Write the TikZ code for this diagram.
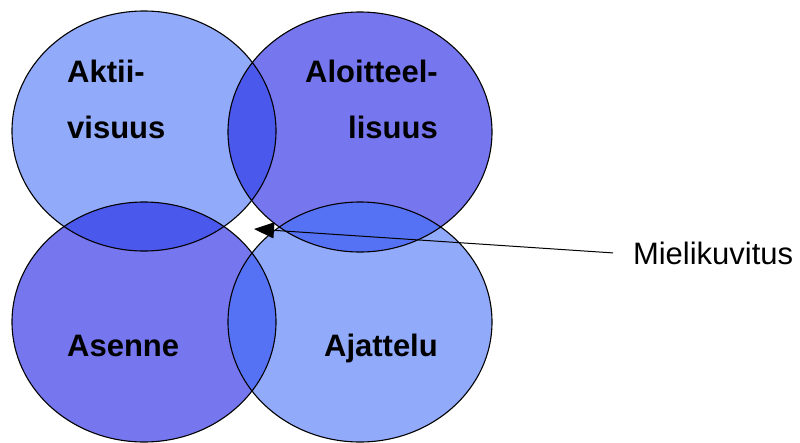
\documentclass[tikz,border=0pt]{standalone}
\usepackage{fontspec}
\setmainfont{Liberation Sans}
\usetikzlibrary{arrows.meta}
\definecolor{lightfill}{RGB}{146,170,250}
\definecolor{darkfill}{RGB}{118,118,238}
\definecolor{overlapA}{RGB}{74,88,236}
\definecolor{overlapB}{RGB}{86,114,244}
\tikzset{
  circlab/.style={anchor=base west, inner sep=0pt, font=\fontsize{31}{37}\selectfont\bfseries},
  outline/.style={draw=black, line width=1.1pt},
  pointer/.style={draw=black, line width=1pt, -{Triangle[length=20pt,width=16pt]}},
}
\begin{document}
\begin{tikzpicture}[x=1pt,y=-1pt]
\useasboundingbox (0,0) rectangle (800,442);
% circle centres and radii
\def\rx{132pt}
\def\ry{120pt}
\coordinate (ctl) at (144,131);
\coordinate (ctr) at (360,132);
\coordinate (cbl) at (144,322);
\coordinate (cbr) at (360,322);
% base fills
\fill[lightfill] (ctl) ellipse [x radius=\rx, y radius=\ry];
\fill[darkfill]  (ctr) ellipse [x radius=\rx, y radius=\ry];
\fill[darkfill]  (cbl) ellipse [x radius=\rx, y radius=\ry];
\fill[lightfill] (cbr) ellipse [x radius=\rx, y radius=\ry];
% overlaps
\begin{scope}
  \clip (ctl) ellipse [x radius=\rx, y radius=\ry];
  \fill[overlapA] (ctr) ellipse [x radius=\rx, y radius=\ry];
  \fill[overlapA] (cbl) ellipse [x radius=\rx, y radius=\ry];
\end{scope}
\begin{scope}
  \clip (cbr) ellipse [x radius=\rx, y radius=\ry];
  \fill[overlapB] (ctr) ellipse [x radius=\rx, y radius=\ry];
  \fill[overlapB] (cbl) ellipse [x radius=\rx, y radius=\ry];
\end{scope}
% outlines
\draw[outline] (ctl) ellipse [x radius=\rx, y radius=\ry];
\draw[outline] (ctr) ellipse [x radius=\rx, y radius=\ry];
\draw[outline] (cbl) ellipse [x radius=\rx, y radius=\ry];
\draw[outline] (cbr) ellipse [x radius=\rx, y radius=\ry];
% labels
\node[circlab] (akt1) at (67,82) {Aktii-};
\node[circlab] (akt2) at (67,138) {visuus};
\node[circlab, anchor=base east] (alo1) at (438,82) {Aloitteel-};
\node[circlab, anchor=base east] (alo2) at (438,138) {lisuus};
\node[circlab] (ase) at (67,356) {Asenne};
\node[circlab, anchor=base east] (aja) at (438,356) {Ajattelu};
% pointer to the gap between the circles
\node[anchor=base west, inner sep=0pt, outer xsep=20pt, font=\fontsize{31}{37}\selectfont] (miel) at (613,264) {Mielikuvitus};
\coordinate (gap) at (254,229);
\draw[pointer] (miel.west) -- (gap);
\end{tikzpicture}
\end{document}
